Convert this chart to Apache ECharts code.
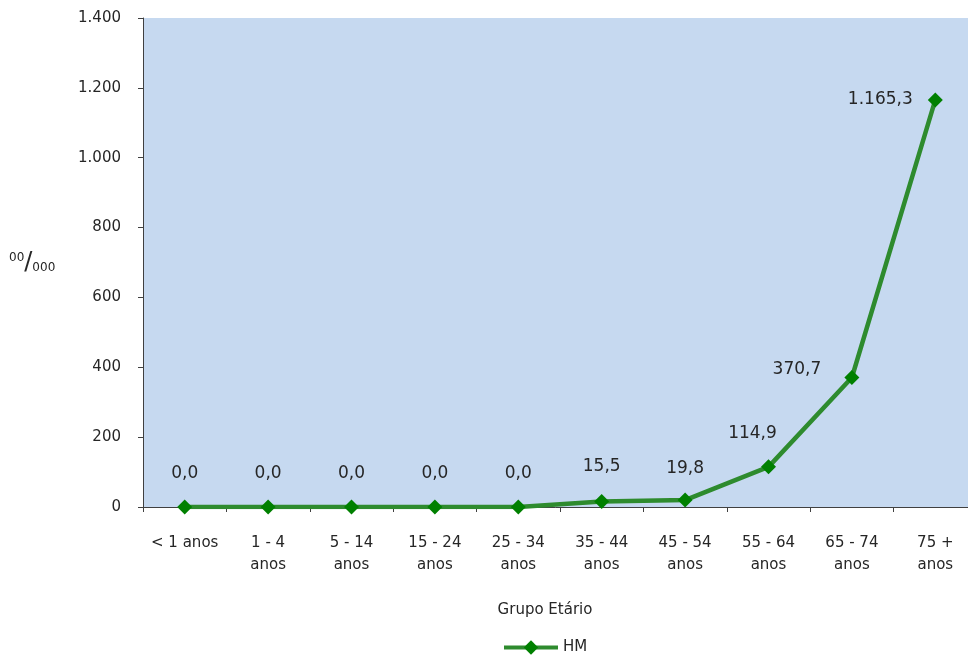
<!DOCTYPE html>
<html>
<head>
<meta charset="utf-8">
<script src="https://cdn.jsdelivr.net/npm/echarts@6/dist/echarts.min.js"></script>
<style>
  html, body { margin: 0; padding: 0; background: #fff; }
  #chart { width: 968px; height: 662px; }
</style>
</head>
<body>
<div id="chart"></div>
<script>
// Age groups and rates per 100 000
const categories = ['< 1 anos', '1 - 4\nanos', '5 - 14\nanos', '15 - 24\nanos', '25 - 34\nanos',
  '35 - 44\nanos', '45 - 54\nanos', '55 - 64\nanos', '65 - 74\nanos', '75 +\nanos'];
const hmValues = [0.0, 0.0, 0.0, 0.0, 0.0, 15.5, 19.8, 114.9, 370.7, 1165.3];
const seriesName = 'HM';
const xTitle = 'Grupo Etário';

const FONT = 'DejaVu Sans';
const TEXT = '#262626';

function fmtPt(v, decimals) {
  const parts = v.toFixed(decimals).split('.');
  parts[0] = parts[0].replace(/\B(?=(\d{3})+(?!\d))/g, '.');
  return parts.join(',');
}

// label placement per point (pixel offsets from the marker)
const labelOffsets = [
  [0, -33], [0, -33], [0, -33], [0, -33], [0, -33],
  [0, -35], [0, -32], [-16, -33], [-55, -8], [-55, 0]
];

const chart = echarts.init(document.getElementById('chart'));
chart.setOption({
  animation: false,
  textStyle: { fontFamily: FONT },
  grid: {
    left: 143, right: -9, top: 18, bottom: 155,
    outerBoundsMode: 'none', containLabel: false,
    backgroundColor: '#C6D9F0', show: true, borderWidth: 0
  },
  xAxis: {
    type: 'category',
    data: categories,
    boundaryGap: true,
    axisLine: { lineStyle: { color: '#404040', width: 1 } },
    axisTick: { show: true, length: 5, lineStyle: { color: '#404040' } },
    axisLabel: { color: TEXT, fontSize: 15, margin: 25, lineHeight: 22, interval: 0, fontFamily: FONT }
  },
  yAxis: {
    type: 'value',
    min: 0, max: 1400, interval: 200,
    splitLine: { show: false },
    axisLine: { show: true, lineStyle: { color: '#404040', width: 1 } },
    axisTick: { show: true, length: 5, lineStyle: { color: '#404040' } },
    axisLabel: {
      color: TEXT, fontSize: 15, margin: 22, fontFamily: FONT,
      formatter: v => fmtPt(v, 0)
    }
  },
  legend: {
    top: 635,
    left: 497,
    data: [seriesName],
    itemWidth: 54,
    itemHeight: 18,
    lineStyle: { width: 4 },
    textStyle: { color: TEXT, fontSize: 15, fontFamily: FONT },
    itemGap: 4
  },
  graphic: [{
    type: 'text',
    left: 9,
    top: 251,
    style: {
      text: '{sup|00}{main|/}{sub|000}',
      rich: {
        sup: { fontSize: 12, fontFamily: FONT, fill: TEXT, padding: [0, 0, 10, 0] },
        main: { fontSize: 24, fontFamily: FONT, fill: TEXT },
        sub: { fontSize: 12, fontFamily: FONT, fill: TEXT, padding: [10, 0, 0, 0] }
      }
    }
  }, {
    type: 'text',
    x: 545,
    y: 610,
    style: {
      text: xTitle,
      fontSize: 15,
      fontFamily: FONT,
      fill: TEXT,
      align: 'center',
      verticalAlign: 'middle'
    }
  }],
  series: [{
    name: seriesName,
    type: 'line',
    data: hmValues.map((v, i) => ({
      value: v,
      label: { offset: labelOffsets[i] }
    })),
    symbol: 'diamond',
    symbolSize: 15,
    lineStyle: { color: '#2E8B2E', width: 4.5 },
    itemStyle: { color: '#008000' },
    label: {
      show: true,
      position: 'inside',
      color: TEXT,
      fontSize: 17,
      fontFamily: FONT,
      formatter: p => fmtPt(p.value, 1)
    }
  }]
});
</script>
</body>
</html>
